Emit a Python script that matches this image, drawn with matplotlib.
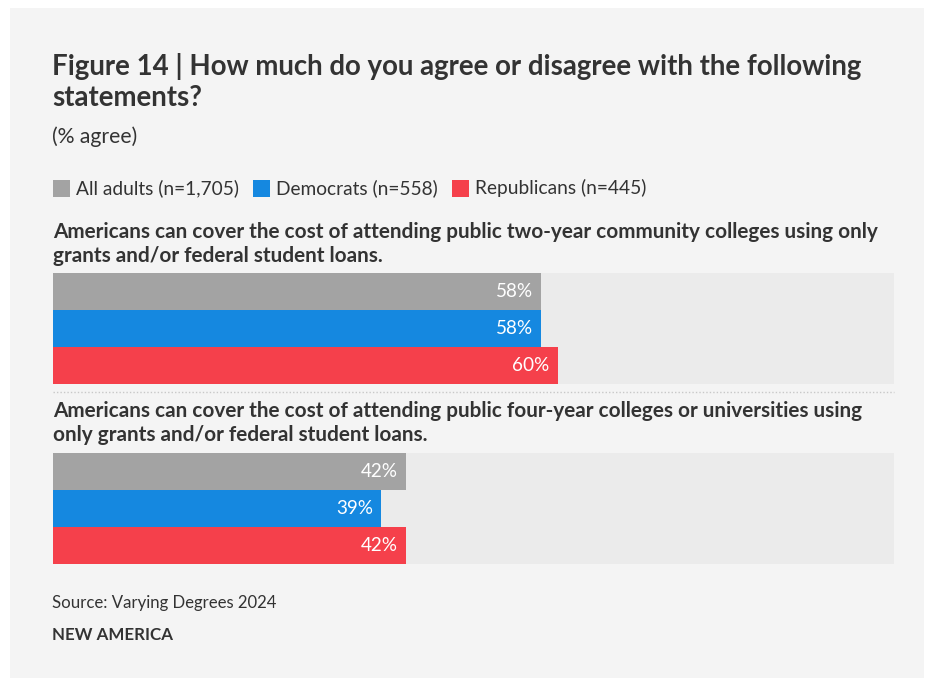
import matplotlib
matplotlib.use("Agg")
import matplotlib.pyplot as plt
from matplotlib.patches import Rectangle

W, H = 927, 679
FONT = ["Lato", "DejaVu Sans"]
plt.rcParams['font.family'] = FONT

title_lines = ["Figure 14 | How much do you agree or disagree with the following", "statements?"]
subtitle = "(% agree)"
series = ["All adults (n=1,705)", "Democrats (n=558)", "Republicans (n=445)"]
colors = ["#a3a3a3", "#1588e0", "#f5404b"]
questions = [
    ["Americans can cover the cost of attending public two-year community colleges using only",
     "grants and/or federal student loans."],
    ["Americans can cover the cost of attending public four-year colleges or universities using",
     "only grants and/or federal student loans."],
]
values = [
    [58, 58, 60],
    [42, 39, 42],
]
source = "Source: Varying Degrees 2024"
brand = "NEW AMERICA"

TEXT = "#333333"
fig = plt.figure(figsize=(W / 100, H / 100), dpi=100)
fig.patch.set_facecolor("white")

fig.patches.append(Rectangle((10 / W, 1 - 678 / H), (924 - 10) / W, (678 - 8) / H,
                             transform=fig.transFigure, facecolor="#f4f4f4",
                             edgecolor="none", zorder=-10))


def fx(px):
    return px / W


def fy(py):
    return 1 - py / H


renderer = fig.canvas.get_renderer()


def fit_size(s, target_w, weight="normal", base=12):
    t = fig.text(0, 0, s, fontsize=base, fontweight=weight)
    w = t.get_window_extent(renderer).width
    t.remove()
    return base * target_w / w


def put(x, y, s, size, weight="normal", **kw):
    return fig.text(fx(x), fy(y), s, fontsize=size, fontweight=weight, color=TEXT,
                    va="baseline", ha="left", **kw)


ts = fit_size(title_lines[0], 807, "bold")
put(52, 75, title_lines[0], ts, "bold")
put(52, 106, title_lines[1], ts, "bold")

put(52, 143, subtitle, fit_size(subtitle, 85))

# legend
ls = fit_size(series[0], 163)
lx = 53
for name, c in zip(series, colors):
    fig.patches.append(Rectangle((fx(lx), fy(197)), 17 / W, 17 / H,
                                 transform=fig.transFigure, facecolor=c,
                                 edgecolor="none", zorder=2))
    t = put(lx + 23, 194, name, ls)
    bb = t.get_window_extent(renderer)
    lx = bb.x1 + 14

qs = fit_size(questions[0][0], 823, "bold")
q_base = [(238, 262), (417, 441)]
bar_top = [273, 453]
bar_bot = [384, 564]
x0, x1 = 53, 894
lab_size = fit_size("58%", 37)

for qi in range(2):
    for line, yb in zip(questions[qi], q_base[qi]):
        put(53, yb, line, qs, "bold")
    ax = fig.add_axes([fx(x0), fy(bar_bot[qi]), (x1 - x0) / W, (bar_bot[qi] - bar_top[qi]) / H])
    ax.set_facecolor("#ebebeb")
    n = len(series)
    ys = list(range(n))
    ax.barh(ys, values[qi], height=1.0, color=colors, edgecolor="none")
    ax.set_xlim(0, 100)
    ax.set_ylim(n - 0.5, -0.5)
    for y, v in zip(ys, values[qi]):
        ax.text(v - 0.95, y, f"{v}%", ha="right", va="center", color="white", fontsize=lab_size)
    for s in ax.spines.values():
        s.set_visible(False)
    ax.set_xticks([])
    ax.set_yticks([])

fig.lines.append(plt.Line2D([fx(x0), fx(x1)], [fy(392), fy(392)], transform=fig.transFigure,
                            color="#c8c8c8", linewidth=1, linestyle=(0, (1, 1.5))))

put(52, 608, source, fit_size(source, 225))
put(52, 640, brand, fit_size(brand, 121, "bold"), "bold")

fig.savefig("out.png", dpi=100, facecolor=fig.get_facecolor())
